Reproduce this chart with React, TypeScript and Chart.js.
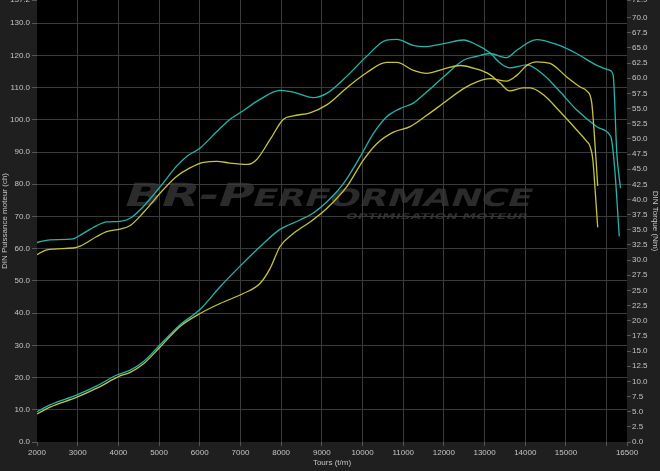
import { useEffect, useRef } from 'react';
import { Chart, registerables } from 'chart.js';

Chart.register(...registerables);

// ---- Data ----
const xTickValues = [2000, 3000, 4000, 5000, 6000, 7000, 8000, 9000, 10000, 11000, 12000, 13000, 14000, 15000, 16000, 16500];
const powerTickValues = [0, 10, 20, 30, 40, 50, 60, 70, 80, 90, 100, 110, 120, 130, 137.2];
const torqueTickValues = [0, 2.5, 5, 7.5, 10, 12.5, 15, 17.5, 20, 22.5, 25, 27.5, 30, 32.5, 35, 37.5, 40, 42.5, 45, 47.5, 50, 52.5, 55, 57.5, 60, 62.5, 65, 67.5, 70, 72.9];

const cyanTorqueRpm = [2000, 2320, 2890, 3010, 3470, 3710, 4040, 4290, 4610, 5100, 5430, 5680, 6010, 6420, 6740, 6990, 7480, 7970, 8300, 8790, 9120, 9610, 10100, 10590, 10840, 11250, 11490, 11990, 12480, 12810, 13130, 13380, 13620, 14040, 14440, 14850, 15260, 15760, 16070, 16120, 16200, 16310];
const cyanTorqueNm = [32.9, 33.35, 33.5, 33.9, 35.7, 36.3, 36.4, 36.9, 38.8, 42.7, 45.5, 47.1, 48.5, 51.2, 53.2, 54.3, 56.5, 58.0, 57.7, 56.8, 57.5, 60.3, 63.6, 66.3, 66.4, 65.4, 65.2, 65.7, 66.3, 65.5, 64.2, 62.5, 61.7, 62.2, 60.6, 57.8, 54.8, 52.0, 50.7, 49.9, 44.9, 33.9];

const cyanPowerRpm = [2000, 2320, 2980, 3470, 3960, 4290, 4610, 5020, 5510, 6010, 6500, 6990, 7480, 7970, 8460, 8790, 9120, 9530, 9940, 10270, 10590, 10920, 11250, 11580, 11990, 12480, 12810, 13130, 13540, 13790, 14280, 14770, 15260, 15760, 16070, 16160, 16250, 16340];
const cyanPowerCh = [9.4, 11.5, 14.6, 17.4, 20.8, 22.3, 24.9, 30.1, 36.3, 41.2, 48.2, 54.6, 60.6, 66.0, 68.9, 71.1, 74.5, 80.2, 88.5, 95.8, 100.9, 103.5, 105.2, 108.7, 113.3, 118.5, 119.7, 120.6, 119.3, 121.6, 124.9, 123.4, 120.6, 116.9, 115.4, 113.8, 89.6, 78.8];

const yellowTorqueRpm = [2000, 2240, 2890, 3060, 3470, 3710, 4040, 4290, 4610, 5100, 5430, 5760, 6090, 6420, 6740, 7190, 7400, 7730, 8050, 8300, 8710, 9120, 9610, 10100, 10590, 10840, 11250, 11580, 11990, 12400, 12810, 13130, 13380, 13620, 13950, 14120, 14440, 14850, 15260, 15510, 15590, 15660, 15710, 15780];
const yellowTorqueNm = [30.9, 31.7, 32.0, 32.3, 33.9, 34.7, 35.1, 35.7, 37.8, 41.6, 43.8, 45.2, 46.1, 46.3, 46.0, 45.8, 46.6, 49.9, 53.2, 53.8, 54.3, 55.6, 58.4, 60.9, 62.6, 62.6, 61.3, 60.8, 61.5, 62.1, 61.5, 60.6, 59.2, 57.9, 58.4, 58.4, 57.3, 54.5, 51.5, 49.6, 48.8, 46.6, 42.2, 35.4];

const yellowPowerRpm = [2000, 2320, 2980, 3470, 4040, 4290, 4610, 5020, 5510, 6010, 6500, 7070, 7480, 7730, 7970, 8300, 8710, 9120, 9610, 10020, 10350, 10760, 11170, 11580, 11990, 12480, 12810, 13130, 13540, 13790, 14040, 14280, 14610, 15020, 15350, 15510, 15630, 15690, 15780];
const yellowPowerCh = [8.7, 10.8, 13.9, 16.7, 20.5, 21.6, 24.2, 29.4, 35.8, 39.9, 43.0, 46.1, 49.2, 53.9, 60.6, 64.7, 68.3, 72.5, 79.2, 87.5, 92.6, 96.2, 97.9, 101.4, 105.2, 109.7, 111.8, 112.8, 112.0, 113.8, 116.9, 118.0, 117.5, 113.3, 110.2, 109.0, 105.6, 96.8, 79.5];

// ---- Styles ----
const CYAN = '#25b4ab';
const YELLOW = '#c5c43c';
const OUTER_BG = '#1f1f1f';
const GRID = '#3b3b3b';
const TICK_MARK = '#555555';
const TEXT = '#c4c4c4';
const FONT = { family: '"Liberation Sans", Arial, sans-serif', size: 8 };

const toPoints = (xs: number[], ys: number[]) => xs.map((x, i) => ({ x, y: ys[i] }));

const backgroundPlugin = {
  id: 'bgAndWatermark',
  beforeDraw(chart: any) {
    const { ctx, chartArea, width, height } = chart;
    ctx.save();
    ctx.fillStyle = OUTER_BG;
    ctx.fillRect(0, 0, width, height);
    ctx.fillStyle = '#000000';
    ctx.fillRect(chartArea.left, chartArea.top, chartArea.right - chartArea.left, chartArea.bottom - chartArea.top);

    // Watermark "BR-PERFORMANCE"
    const fam = '"DejaVu Sans", sans-serif';
    const bigFont = `bold 32px ${fam}`;
    const smallFont = `bold 24px ${fam}`;
    ctx.font = bigFont;
    const w1 = ctx.measureText('BR-P').width;
    ctx.font = smallFont;
    const w2 = ctx.measureText('ERFORMANCE').width;
    const sx = 408 / (w1 + w2);
    ctx.save();
    ctx.translate(122, 206);
    ctx.transform(sx, 0, -0.35, 1, 0, 0);
    ctx.fillStyle = '#2b2b2b';
    ctx.textBaseline = 'alphabetic';
    ctx.font = bigFont;
    ctx.fillText('BR-P', 0, 0);
    ctx.font = smallFont;
    ctx.fillText('ERFORMANCE', w1, 0);
    ctx.restore();

    // Sub text
    const subFont = `bold 8px ${fam}`;
    ctx.font = subFont;
    const sub = 'OPTIMISATION MOTEUR';
    const ws = ctx.measureText(sub).width;
    ctx.save();
    ctx.translate(345, 219);
    ctx.transform(182 / ws, 0, -0.35, 1, 0, 0);
    ctx.fillStyle = '#2e2e2e';
    ctx.fillText(sub, 0, 0);
    ctx.restore();
    ctx.restore();
  },
};

export default function App() {
  const canvasRef = useRef<HTMLCanvasElement | null>(null);

  useEffect(() => {
    if (!canvasRef.current) return;
    const common = {
      pointRadius: 0,
      pointHoverRadius: 0,
      borderWidth: 1.3,
      fill: false,
      cubicInterpolationMode: 'monotone' as const,
    };
    const chart = new Chart(canvasRef.current, {
      type: 'line',
      data: {
        datasets: [
          { ...common, label: 'Couple origine', data: toPoints(yellowTorqueRpm, yellowTorqueNm), borderColor: YELLOW, yAxisID: 'yT' },
          { ...common, label: 'Puissance origine', data: toPoints(yellowPowerRpm, yellowPowerCh), borderColor: YELLOW, yAxisID: 'yP' },
          { ...common, label: 'Couple optimisé', data: toPoints(cyanTorqueRpm, cyanTorqueNm), borderColor: CYAN, yAxisID: 'yT' },
          { ...common, label: 'Puissance optimisée', data: toPoints(cyanPowerRpm, cyanPowerCh), borderColor: CYAN, yAxisID: 'yP' },
        ],
      },
      options: {
        responsive: false,
        animation: false,
        devicePixelRatio: 1,
        layout: { padding: 0 },
        plugins: { legend: { display: false }, tooltip: { enabled: false } },
        scales: {
          x: {
            type: 'linear',
            min: 2000,
            max: 16500,
            afterBuildTicks: (s: any) => { s.ticks = xTickValues.map((v) => ({ value: v })); },
            afterFit: (s: any) => { s.height = 29; },
            ticks: {
              autoSkip: false,
              maxRotation: 0,
              padding: 2,
              color: TEXT,
              font: FONT,
              callback: (v: any) => (v === 16000 ? '' : String(v)),
            },
            grid: {
              color: (c: any) => (c.tick && (c.tick.value === 2000 || c.tick.value === 16500) ? 'rgba(0,0,0,0)' : GRID),
              tickColor: TICK_MARK,
              tickLength: 4,
              lineWidth: 1,
            },
            border: { display: false },
            title: { display: true, text: 'Tours (t/m)', color: TEXT, font: FONT, padding: { top: 0, bottom: 3 } },
          },
          yP: {
            type: 'linear',
            position: 'left',
            min: 0,
            max: 137.2,
            afterBuildTicks: (s: any) => { s.ticks = powerTickValues.map((v) => ({ value: v })); },
            afterFit: (s: any) => { s.width = 37; s.paddingTop = 0; },
            ticks: { autoSkip: false, padding: 2, color: TEXT, font: FONT, callback: (v: any) => Number(v).toFixed(1) },
            grid: {
              color: (c: any) => (c.tick && (c.tick.value === 0 || c.tick.value === 137.2) ? 'rgba(0,0,0,0)' : GRID),
              tickColor: TICK_MARK,
              tickLength: 5,
            },
            border: { display: false },
            title: { display: true, text: 'DIN Puissance moteur (ch)', color: TEXT, font: FONT, padding: { top: 0, bottom: 0 } },
          },
          yT: {
            type: 'linear',
            position: 'right',
            min: 0,
            max: 72.9,
            afterBuildTicks: (s: any) => { s.ticks = torqueTickValues.map((v) => ({ value: v })); },
            afterFit: (s: any) => { s.width = 33; s.paddingTop = 0; },
            ticks: { autoSkip: false, padding: 1, color: TEXT, font: FONT, callback: (v: any) => Number(v).toFixed(1) },
            grid: { drawOnChartArea: false, tickColor: TICK_MARK, tickLength: 4 },
            border: { display: false },
            title: { display: true, text: 'DIN Torque (Nm)', color: TEXT, font: FONT, padding: { top: 0, bottom: 0 } },
          },
        },
      },
      plugins: [backgroundPlugin],
    });
    return () => chart.destroy();
  }, []);

  return (
    <div style={{ position: 'absolute', left: 0, top: 0, width: 660, height: 471, overflow: 'hidden', background: OUTER_BG }}>
      <canvas ref={canvasRef} width={660} height={471} style={{ display: 'block', width: 660, height: 471 }} />
    </div>
  );
}
